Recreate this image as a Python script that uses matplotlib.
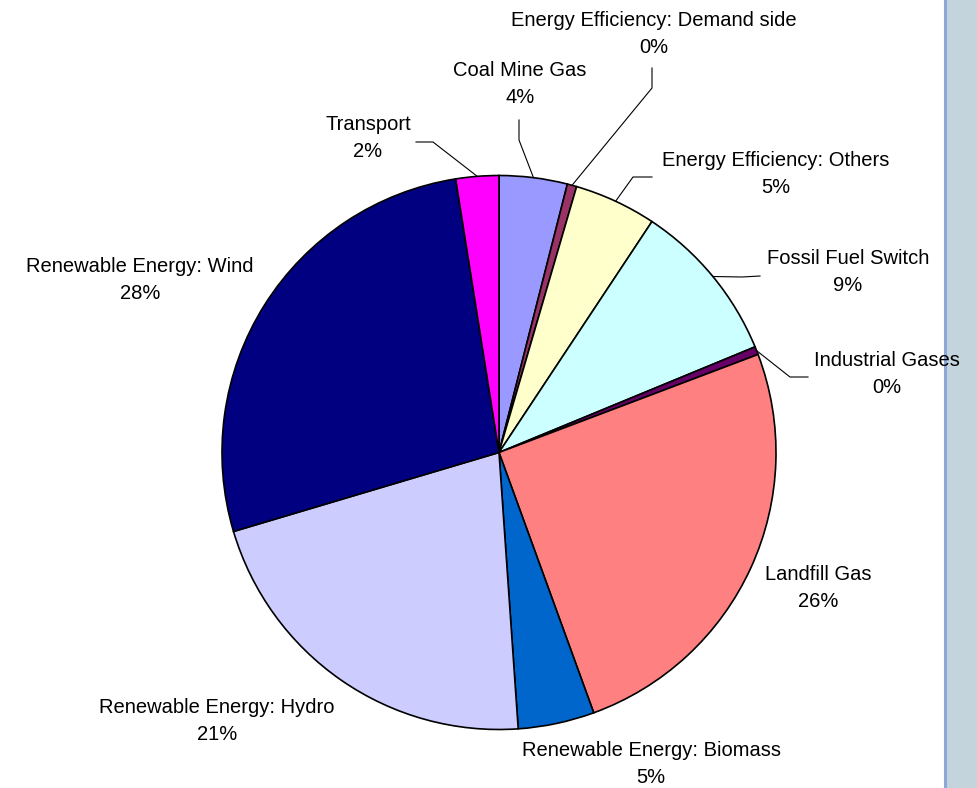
import numpy as np
import matplotlib
matplotlib.use("Agg")
import matplotlib.pyplot as plt
from matplotlib.patches import Rectangle
from matplotlib.lines import Line2D

# slices, clockwise from 12 o'clock (share of total)
categories = [
    "Coal Mine Gas",
    "Energy Efficiency: Demand side",
    "Energy Efficiency: Others",
    "Fossil Fuel Switch",
    "Industrial Gases",
    "Landfill Gas",
    "Renewable Energy: Biomass",
    "Renewable Energy: Hydro",
    "Renewable Energy: Wind",
    "Transport",
]
shares = [3.97, 0.55, 4.79, 9.46, 0.47, 25.2, 4.45, 21.5, 27.1, 2.5]
pct_labels = ["4%", "0%", "5%", "9%", "0%", "26%", "5%", "21%", "28%", "2%"]
colors = ["#9999FF", "#993366", "#FFFFCC", "#CCFFFF", "#660066",
          "#FF8080", "#0066CC", "#CCCCFF", "#000080", "#FF00FF"]

# label layout in pixel coords: text centre, optional leader elbow + end
W, H = 978, 788
CX, CY, R = 499, 452.5, 277
label_pos = [(520, 84), (654, 34), (776, 174), (848, 272), (887, 374),
             (818, 588), (651, 764), (217, 721), (140, 280), (368, 138)]
leaders = [
    [(519, 140), (519, 120)],
    [(652, 88), (652, 68)],
    [(633, 177), (652, 177)],
    [(742, 277), (760, 276)],
    [(790, 377), (808, 377)],
    None, None, None, None,
    [(433, 142), (416, 142)],
]


def px(x, y):
    return (x - CX) / R, (CY - y) / R


plt.rcParams["font.family"] = ["Liberation Sans", "DejaVu Sans"]

fig = plt.figure(figsize=(W / 100, H / 100), dpi=100)

# grey-blue strip on the right edge
fig.add_artist(Rectangle((947 / W, 0), (W - 947) / W, 1, transform=fig.transFigure,
                         facecolor="#C4D4DC", edgecolor="none", zorder=-2))
fig.add_artist(Line2D([945.5 / W] * 2, [0, 1], transform=fig.transFigure,
                      color="#8DA8D8", lw=2.2, zorder=-1))

ax = fig.add_axes([(CX - R) / W, (H - CY - R) / H, 2 * R / W, 2 * R / H])
ax.set_zorder(1)
wedges, _ = ax.pie(shares, colors=colors, startangle=90, counterclock=False,
                   radius=1, wedgeprops=dict(edgecolor="black", linewidth=1.2))
ax.set_xlim(-1, 1)
ax.set_ylim(-1, 1)
ax.set_aspect("equal")
ax.axis("off")

for w, name, pct, pos, lead in zip(wedges, categories, pct_labels, label_pos, leaders):
    tx, ty = px(*pos)
    ax.text(tx, ty, f"{name}\n{pct}", ha="center", va="center", fontsize=14.5,
            linespacing=1.55, clip_on=False, zorder=5)
    if lead is not None:
        mid = np.deg2rad((w.theta1 + w.theta2) / 2)
        pts = [(np.cos(mid), np.sin(mid))] + [px(*p) for p in lead]
        xs, ys = zip(*pts)
        ax.plot(xs, ys, color="black", lw=0.8, clip_on=False, zorder=4)

fig.savefig("out.png", dpi=100)
